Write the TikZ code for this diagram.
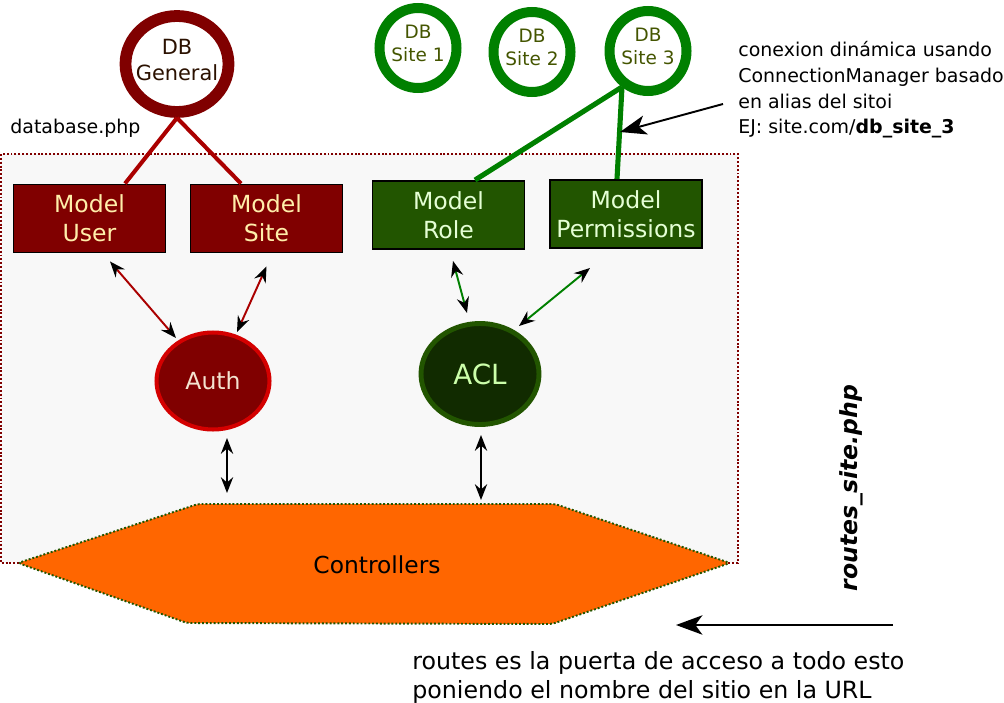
\documentclass[tikz,border=0pt]{standalone}
\usepackage{fontspec}
\setmainfont{DejaVu Sans}
\usetikzlibrary{shapes.geometric, arrows.meta}

\definecolor{dbred}{HTML}{800000}
\definecolor{linkred}{HTML}{AA0000}
\definecolor{authred}{HTML}{D40000}
\definecolor{creamtext}{HTML}{FFEEAA}
\definecolor{authtext}{HTML}{F4E3D0}
\definecolor{gentext}{HTML}{2B1100}
\definecolor{dbgreen}{HTML}{008000}
\definecolor{modelgreen}{HTML}{225500}
\definecolor{aclgreen}{HTML}{112B00}
\definecolor{paletext}{HTML}{E5FFD5}
\definecolor{acltext}{HTML}{CCFFAA}
\definecolor{sitetext}{HTML}{445500}
\definecolor{ctrlorange}{HTML}{FF6600}
\definecolor{panelgrey}{HTML}{F8F8F8}

\begin{document}
\begin{tikzpicture}[x=0.02cm, y=-0.02cm,
    modelbox/.style={draw=black, line width=1.1pt, minimum width=3.04cm, minimum height=1.36cm, inner sep=0pt, align=center, font=\fontsize{13.4}{16.5}\selectfont},
    redbox/.style={modelbox, fill=dbred, text=creamtext},
    greenbox/.style={modelbox, fill=modelgreen, text=paletext},
    ring/.style={ellipse, fill=white, inner sep=0pt},
    generalring/.style={ring, draw=dbred, line width=6.7pt, minimum width=2.06cm, minimum height=1.92cm},
    sitering/.style={ring, draw=dbgreen, line width=5.7pt, minimum width=1.54cm, minimum height=1.6cm},
    ringtext/.style={align=center, inner sep=0pt, yshift=2.5pt},
    authnode/.style={ellipse, fill=dbred, draw=authred, line width=2.3pt, minimum width=2.26cm, minimum height=1.94cm, inner sep=0pt, text=authtext, font=\fontsize{13.4}{16}\selectfont},
    aclnode/.style={ellipse, fill=aclgreen, draw=modelgreen, line width=2.8pt, minimum width=2.36cm, minimum height=2.02cm, inner sep=0pt, text=acltext, font=\fontsize{15.8}{19}\selectfont},
    redlink/.style={draw=linkred, line width=2.3pt},
    greenlink/.style={draw=dbgreen, line width=2.9pt},
    twoway/.style={line width=1.1pt, arrows={Stealth[black, length=9pt, width=7pt, inset=3pt]-Stealth[black, length=9pt, width=7pt, inset=3pt]}},
    bigarrow/.style={line width=1.1pt, arrows={-Stealth[length=15pt, width=11pt, inset=4pt]}},
    plain/.style={inner sep=0pt, align=left, font=\fontsize{10.8}{14.6}\selectfont}]

    \useasboundingbox (0,0) rectangle (1004,703);

    \draw[fill=panelgrey, draw=dbred, line width=1.1pt, dash pattern=on 1.1pt off 1.1pt] (1,154) rectangle (738,563);
        \node[plain, anchor=west] (dbfile) at (10,128) {database.php};

    \draw[fill=ctrlorange, draw=modelgreen, line width=1.1pt, dash pattern=on 1.1pt off 1.1pt, rounded corners=2pt]
        (18,563) -- (198,504) -- (555,504) -- (730,563) -- (552,624) -- (187,623) -- cycle;
        \node[font=\fontsize{13.3}{16}\selectfont] (ctrl) at (377,565) {Controllers};

    \node[generalring, label={[ringtext, text=gentext, font=\fontsize{11.9}{14.8}\selectfont]center:DB\\General}] (gen) at (177,64) {};
    \node[sitering, label={[ringtext, text=sitetext, font=\fontsize{10.5}{13}\selectfont]center:DB\\Site 1}] (site1) at (418,48) {};
    \node[sitering, label={[ringtext, text=sitetext, font=\fontsize{10.5}{13}\selectfont]center:DB\\Site 2}] (site2) at (532,52) {};
    \node[sitering, label={[ringtext, text=sitetext, font=\fontsize{10.5}{13}\selectfont]center:DB\\Site 3}] (site3) at (648,51) {};

    \node[redbox] (user) at (89.5,218.5) {Model\\User};
    \node[redbox] (site) at (266.5,218.5) {Model\\Site};
    \node[greenbox] (role) at (448.5,215) {Model\\Role};
    \node[greenbox] (perm) at (626,214) {Model\\Permissions};

    \node[authnode] (auth) at (213,381) {Auth};
    \node[aclnode] (acl) at (480,374) {ACL};

    \draw[redlink] (gen.south) -- ([xshift=35.5*0.02cm]user.north);
    \draw[redlink] (gen.south) -- ([xshift=-25.5*0.02cm]site.north);
    \draw[greenlink] ([shift={(-26,36)}]site3.center) -- ([xshift=26.5*0.02cm]role.north);
    \draw[greenlink] ([shift={(-26,36)}]site3.center) -- ([xshift=-9*0.02cm]perm.north);

    \draw[twoway, draw=linkred] ([shift={(20.5,8)}]user.south) -- ([shift={(-37,-43)}]auth.center);
    \draw[twoway, draw=linkred] ([shift={(0,13)}]site.south) -- ([shift={(24,-49)}]auth.center);
    \draw[twoway, draw=dbgreen] ([shift={(4.5,11)}]role.south) -- ([shift={(-13,-61)}]acl.center);
    \draw[twoway, draw=dbgreen] ([shift={(-36,19)}]perm.south) -- ([shift={(39,-48)}]acl.center);
    \draw[twoway] ([shift={(14,57)}]auth.center) -- ([shift={(-150,-72)}]ctrl.center);
    \draw[twoway] ([shift={(1,61)}]acl.center) -- ([shift={(104,-65)}]ctrl.center);

    \node[plain, anchor=west] (note) at (738,90) {conexion dinámica usando\\ConnectionManager basado\\en alias del sitoi\\EJ: site.com/\textbf{db\_site\_3}};
    \coordinate (hit) at (620,132);
    \draw[bigarrow] ([shift={(-15,14)}]note.west) -- (hit);

    \node[rotate=90, font=\fontsize{13.4}{16}\selectfont\bfseries\itshape] (routes) at (851,488) {routes\_site.php};
    \coordinate (urlstart) at (893,625);
    \coordinate (urlend) at (676,625);
    \draw[bigarrow] (urlstart) -- (urlend);
        \node[plain, anchor=west, font=\fontsize{13.5}{16.5}\selectfont] (gate) at (412,677) {routes es la puerta de acceso a todo esto\\poniendo el nombre del sitio en la URL};

\end{tikzpicture}
\end{document}
